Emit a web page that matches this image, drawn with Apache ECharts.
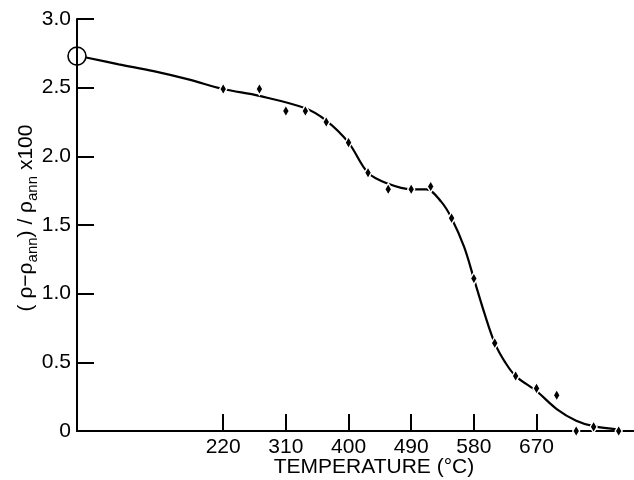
<!DOCTYPE html>
<html>
<head>
<meta charset="utf-8">
<script src="https://cdn.jsdelivr.net/npm/echarts@6/dist/echarts.min.js"></script>
<style>
  html, body { margin: 0; padding: 0; background: #fff; }
  #chart { width: 634px; height: 480px; }
</style>
</head>
<body>
<div id="chart"></div>
<script>
// measured points (temperature °C, value)
var tempPts = [220, 272, 310, 338, 368, 400, 428, 457, 490, 518, 548, 580, 610, 640, 670, 699, 727, 752, 788];
var valPts = [2.49, 2.49, 2.33, 2.33, 2.25, 2.10, 1.88, 1.76, 1.76, 1.78, 1.55, 1.11, 0.64, 0.40, 0.31, 0.26, 0.00, 0.03, 0.00];

// as-quenched value (open circle)
var startT = [10];
var startV = [2.73];

// fitted curve
var curveT = [23, 70, 120, 170, 220, 272, 338, 368, 400, 428, 457, 490, 512, 533, 548, 566, 580, 595, 610, 625, 640, 670, 699, 727, 752, 788];
var curveV = [2.72, 2.67, 2.62, 2.56, 2.49, 2.44, 2.35, 2.26, 2.10, 1.88, 1.80, 1.76, 1.76, 1.67, 1.55, 1.34, 1.11, 0.86, 0.64, 0.50, 0.40, 0.29, 0.16, 0.075, 0.035, 0.01];

var xTicks = [220, 310, 400, 490, 580, 670];

var FONT = '"Liberation Sans", Arial, sans-serif';

function pairs(xs, ys) {
    var out = [];
    for (var i = 0; i < xs.length; i++) out.push([xs[i], ys[i]]);
    return out;
}

var chart = echarts.init(document.getElementById('chart'), null, { renderer: 'canvas' });

var option = {
    animation: false,
    backgroundColor: '#fff',
    grid: { left: 77, right: 0, top: 19, bottom: 49, outerBoundsMode: 'none' },
    xAxis: {
        type: 'value',
        min: 10,
        max: 810,
        axisLine: { lineStyle: { color: '#000', width: 2 } },
        axisTick: { inside: true, length: 17, customValues: xTicks, lineStyle: { color: '#000', width: 2 } },
        axisLabel: { customValues: xTicks, color: '#000', fontSize: 21, fontFamily: FONT, margin: 6 },
        splitLine: { show: false }
    },
    yAxis: {
        type: 'value',
        min: 0,
        max: 3,
        interval: 0.5,
        axisLine: { show: true, lineStyle: { color: '#000', width: 2 } },
        axisTick: { show: true, inside: true, length: 17, lineStyle: { color: '#000', width: 2 } },
        axisLabel: {
            color: '#000', fontSize: 21, fontFamily: FONT, margin: 6,
            formatter: function (v) { return v === 0 ? '0' : v.toFixed(1); }
        },
        splitLine: { show: false }
    },
    graphic: [
        {
            type: 'text',
            x: 26, y: 218,
            rotation: Math.PI / 2,
            style: {
                text: '{m|( ρ−ρ}{s|ann}{m|) / ρ}{s|ann}{m| x100}',
                align: 'center',
                verticalAlign: 'middle',
                fill: '#000',
                rich: {
                    m: { fontSize: 21, fontFamily: FONT, lineHeight: 28, verticalAlign: 'middle', fill: '#000' },
                    s: { fontSize: 15, fontFamily: FONT, lineHeight: 14, verticalAlign: 'bottom', fill: '#000' }
                }
            }
        },
        {
            type: 'text',
            x: 374, y: 467,
            style: {
                text: 'TEMPERATURE (°C)',
                align: 'center',
                verticalAlign: 'middle',
                fontSize: 21,
                fontFamily: FONT,
                fill: '#000'
            }
        }
    ],
    series: [
        {
            name: 'curve',
            type: 'line',
            data: pairs(curveT, curveV),
            smooth: 0.35,
            showSymbol: false,
            lineStyle: { color: '#000', width: 2.2 },
            z: 2
        },
        {
            name: 'measured',
            type: 'scatter',
            data: pairs(tempPts, valPts),
            symbol: 'diamond',
            symbolSize: [7, 12],
            itemStyle: { color: '#000', borderColor: '#fff', borderWidth: 1.5, opacity: 1 },
            clip: false,
            z: 3
        },
        {
            name: 'start',
            type: 'scatter',
            data: pairs(startT, startV),
            symbol: 'circle',
            symbolSize: 18,
            itemStyle: { color: 'rgba(0,0,0,0)', borderColor: '#000', borderWidth: 1.6, opacity: 1 },
            clip: false,
            z: 4
        }
    ]
};

chart.setOption(option);
</script>
</body>
</html>
